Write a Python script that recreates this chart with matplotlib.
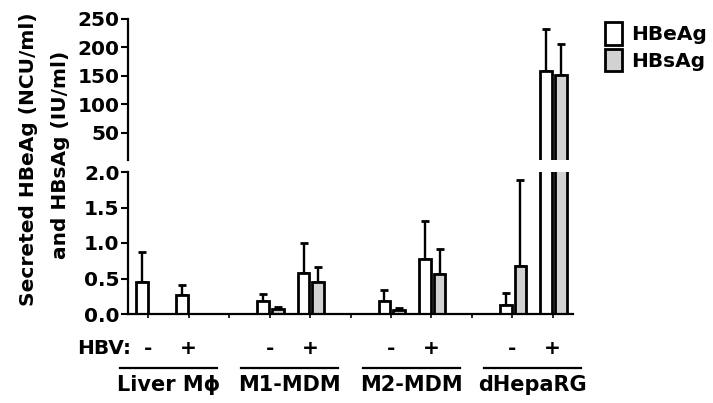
import matplotlib
matplotlib.use("Agg")
import matplotlib.pyplot as plt
from matplotlib.patches import Patch
from matplotlib.lines import Line2D
from matplotlib.transforms import blended_transform_factory
import numpy as np

plt.rcParams['font.family'] = ['DejaVu Sans']
plt.rcParams['font.weight'] = 'bold'

groups = ["Liver M\u03d5", "M1-MDM", "M2-MDM", "dHepaRG"]
hbv = ["-", "+"]
# order: Liver-, Liver+, M1-, M1+, M2-, M2+, dHepaRG-, dHepaRG+
hbeag = [0.45, 0.27, 0.18, 0.58, 0.18, 0.77, 0.13, 159.0]
hbeag_err = [0.43, 0.14, 0.10, 0.42, 0.16, 0.54, 0.16, 73.0]
hbsag = [np.nan, np.nan, 0.07, 0.45, 0.05, 0.57, 0.67, 151.0]
hbsag_err = [np.nan, np.nan, 0.03, 0.21, 0.03, 0.35, 1.22, 55.0]
lower_ticks = [0.0, 0.5, 1.0, 1.5, 2.0]
upper_ticks = [50, 100, 150, 200, 250]

W, H = 713, 403
fig = plt.figure(figsize=(W/100, H/100), dpi=100)

def px(l, t, r, b):
    return [l/W, 1 - b/H, (r-l)/W, (b-t)/H]

def fy(y):
    return 1 - y/H

ax_lo = fig.add_axes(px(128, 172, 573, 314))
ax_hi = fig.add_axes(px(128, 19, 573, 160))

pos = []
for g in range(len(groups)):
    pos += [g*3, g*3 + 1]
pos = np.array(pos, dtype=float)
w = 0.29
off_e, off_s = -0.16, 0.20
FS = 14.5

def draw(ax, ymin):
    e = np.array(hbeag, dtype=float)
    s = np.array(hbsag, dtype=float)
    ee = np.array(hbeag_err, dtype=float)
    se = np.array(hbsag_err, dtype=float)
    if ymin > 0:
        ee = np.where(e + ee > ymin, ee, np.nan)
        se = np.where(s + se > ymin, se, np.nan)
        e = np.where(e > ymin, e, np.nan)
        s = np.where(s > ymin, s, np.nan)
    ax.bar(pos + off_e, e, width=w, color='white', edgecolor='black', linewidth=2.0, zorder=2)
    ax.bar(pos + off_s, s, width=w, color='#d2d2d2', edgecolor='black', linewidth=2.0, zorder=2)
    ax.errorbar(pos + off_e, e, yerr=[np.zeros(len(e)), ee],
                fmt='none', ecolor='black', elinewidth=1.7, capsize=3, capthick=2.0, zorder=1)
    ax.errorbar(pos + off_s, s, yerr=[np.zeros(len(s)), se],
                fmt='none', ecolor='black', elinewidth=1.7, capsize=3, capthick=2.0, zorder=1)

draw(ax_lo, 0)
draw(ax_hi, 2)

for ax in (ax_lo, ax_hi):
    ax.set_xlim(-0.5, 10.5)
    for s in ('top', 'right'):
        ax.spines[s].set_visible(False)
    ax.spines['left'].set_linewidth(1.6)
    ax.spines['bottom'].set_linewidth(1.6)
    ax.tick_params(axis='y', direction='out', length=5, width=1.5, labelsize=FS, pad=1)

ax_lo.set_ylim(0, 2.0)
ax_lo.set_yticks(lower_ticks)
ax_lo.set_yticklabels([f"{v:.1f}" for v in lower_ticks])
ax_lo.set_xticks(np.arange(0, 11))
ax_lo.set_xticklabels([])
ax_lo.tick_params(axis='x', direction='out', length=3, width=1.2)

ax_hi.set_ylim(2, 250)
ax_hi.set_yticks(upper_ticks)
ax_hi.spines['bottom'].set_visible(False)
ax_hi.set_xticks([])
for lbl in ax_lo.get_yticklabels() + ax_hi.get_yticklabels():
    lbl.set_fontweight('bold')

blend = blended_transform_factory(ax_lo.transData, fig.transFigure)
for i, p in enumerate(pos):
    fig.text(p, fy(349), hbv[i % 2], ha='center', va='center', fontsize=FS,
             fontweight='bold', transform=blend)
fig.text(104/W, fy(349), "HBV:", ha='center', va='center', fontsize=FS, fontweight='bold')

for g, name in enumerate(groups):
    c = g*3 + 0.5
    fig.add_artist(Line2D([c - 1.2, c + 1.2], [fy(368), fy(368)], color='black',
                          lw=1.6, transform=blend))
    fig.text(c, fy(385), name, ha='center', va='center', fontsize=15, fontweight='bold',
             transform=blend)

fig.text(29/W, fy(159), "Secreted HBeAg (NCU/ml)", rotation=90,
         ha='center', va='center', fontsize=FS, fontweight='bold')
fig.text(60/W, fy(155), "and HBsAg (IU/ml)", rotation=90,
         ha='center', va='center', fontsize=FS, fontweight='bold')

handles = [Patch(facecolor='white', edgecolor='black', linewidth=2.0, label='HBeAg'),
           Patch(facecolor='#d2d2d2', edgecolor='black', linewidth=2.0, label='HBsAg')]
fig.legend(handles=handles, loc='upper left', bbox_to_anchor=(605/W, fy(22)), frameon=False,
           prop={'size': FS, 'weight': 'bold'}, handlelength=0.85, handleheight=1.35,
           handletextpad=0.45, labelspacing=0.2, borderaxespad=0, borderpad=0.0)

fig.savefig("out.png", dpi=100)
